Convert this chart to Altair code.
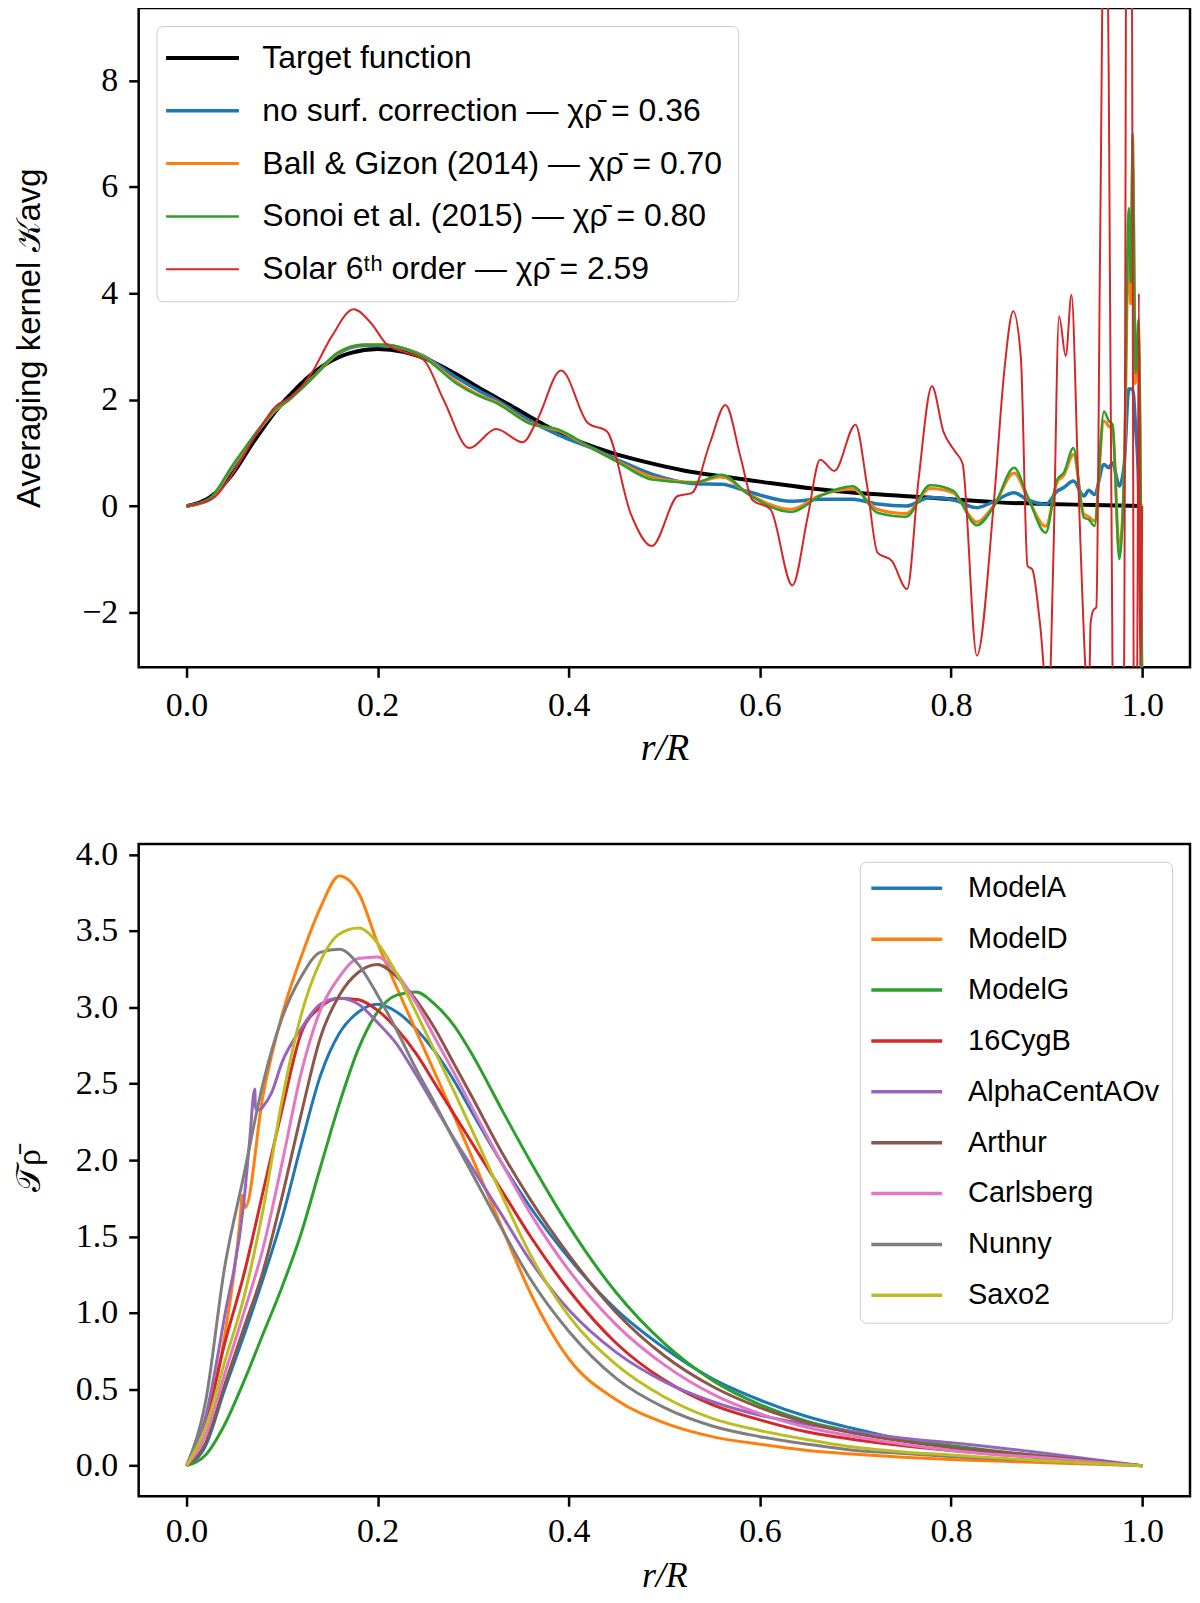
import altair as alt
import pandas as pd

# ---------------- top panel: averaging kernels ----------------
R_TARGET = [0, 0.024, 0.048, 0.07, 0.093, 0.117, 0.145, 0.172, 0.2, 0.227, 0.25, 0.28,
            0.31, 0.34, 0.375, 0.41, 0.445, 0.48, 0.52, 0.56, 0.6, 0.65, 0.7, 0.75,
            0.8, 0.85, 0.9, 0.95, 1.0]
K_TARGET = [0, 0.16, 0.6, 1.2, 1.78, 2.25, 2.66, 2.88, 2.95, 2.9, 2.77, 2.5,
            2.18, 1.88, 1.52, 1.22, 1.0, 0.83, 0.67, 0.56, 0.46, 0.34, 0.25, 0.19,
            0.13, 0.07, 0.04, 0.02, 0.0]

R_CORR = [0, 0.024, 0.048, 0.076, 0.093, 0.107, 0.131, 0.158, 0.186, 0.207, 0.231, 0.248,
          0.282, 0.307, 0.324, 0.358, 0.389, 0.427, 0.45, 0.487, 0.532, 0.56, 0.588, 0.633,
          0.663, 0.697, 0.723, 0.753, 0.778, 0.802, 0.827, 0.845, 0.866, 0.88, 0.899, 0.911,
          0.918, 0.928, 0.939, 0.944, 0.95, 0.96, 0.965, 0.969, 0.976, 0.981, 0.986, 0.988,
          0.99, 0.993, 0.996, 1.0]
K_NOSURF = [0, 0.12, 0.72, 1.44, 1.8, 2.0, 2.4, 2.86, 3.02, 3.02, 2.94, 2.82,
            2.42, 2.16, 2.0, 1.62, 1.34, 1.07, 0.88, 0.6, 0.42, 0.41, 0.27, 0.09,
            0.13, 0.13, 0.04, 0.0, 0.16, 0.12, -0.03, 0.09, 0.25, 0.12, 0.03, 0.28,
            0.35, 0.47, 0.19, 0.3, 0.22, 0.78, 0.72, 0.81, 0.38, 0.75, 2.2, 2.2,
            2.2, 1.5, 0.5, -4.0]
K_BG14 = [0, 0.13, 0.74, 1.44, 1.8, 2.0, 2.4, 2.87, 3.03, 3.03, 2.94, 2.81,
          2.34, 2.08, 1.96, 1.57, 1.42, 1.06, 0.85, 0.55, 0.45, 0.55, 0.23, -0.06,
          0.2, 0.32, -0.06, -0.14, 0.33, 0.25, -0.3, 0.02, 0.62, 0.16, -0.38, 0.45,
          0.58, 0.97, -0.15, -0.2, -0.28, 1.6, 1.5, 1.45, -0.8, 0.5, 5.0, 3.8,
          6.4, 2.3, 3.2, -4.0]
K_SONOI = [0, 0.14, 0.76, 1.45, 1.82, 2.0, 2.4, 2.88, 3.03, 3.03, 2.94, 2.8,
           2.31, 2.06, 1.94, 1.56, 1.44, 1.06, 0.84, 0.5, 0.44, 0.59, 0.22, -0.11,
           0.19, 0.375, -0.125, -0.2, 0.39, 0.29, -0.36, 0.0, 0.72, 0.19, -0.5, 0.5,
           0.63, 1.09, -0.22, -0.25, -0.375, 1.78, 1.6, 1.53, -1.0, 0.6, 5.6, 4.2,
           7.0, 2.5, 3.5, -4.0]

R_SOLAR6 = [0, 0.028, 0.048, 0.076, 0.093, 0.11, 0.131, 0.152, 0.175, 0.193, 0.21, 0.227,
            0.248, 0.269, 0.296, 0.324, 0.352, 0.367, 0.392, 0.42, 0.44, 0.465, 0.487, 0.514,
            0.529, 0.548, 0.564, 0.58, 0.592, 0.611, 0.634, 0.65, 0.663, 0.678, 0.70, 0.712,
            0.723, 0.738, 0.754, 0.766, 0.78, 0.792, 0.804, 0.812, 0.827, 0.845, 0.856, 0.865,
            0.873, 0.88, 0.885, 0.893, 0.902, 0.907, 0.913, 0.92, 0.926, 0.933, 0.941, 0.944,
            0.946, 0.949, 0.952, 0.956, 0.961, 0.965, 0.969, 0.975, 0.981, 0.984, 0.989, 0.991,
            0.993, 0.9948, 0.9965, 0.998, 1.0]
K_SOLAR6 = [0, 0.15, 0.6, 1.44, 1.87, 2.06, 2.5, 3.19, 3.7, 3.44, 3.03, 2.9,
            2.75, 2.0, 1.09, 1.45, 1.2, 1.62, 2.55, 1.56, 1.4, -0.15, -0.75, 0.19,
            0.25, 1.2, 1.9, 0.9, 0.12, -0.06, -1.49, -0.2, 0.87, 0.66, 1.53, 0.4,
            -0.875, -1.03, -1.56, 0.5, 2.25, 1.4, 1.03, 0.8, -2.81, 0.125, 2.6, 3.66,
            2.8, -1.125, -1.19, -2.2, -3.8, -1.0, 3.57, 2.82, 3.97, 0.5, -3.2, -4.0,
            -2.2, -1.95, -1.9, 5.0, 13.0, 8.0, -3.2, -6.0, -3.0, 14.0, 12.0, -3.0,
            -6.0, -3.0, 4.0, -3.0, 0.0]

CHI = "\u03c7\u03c1\u0304"
TOP_LABELS = [
    "Target function",
    f"no surf. correction \u2014 {CHI} = 0.36",
    f"Ball & Gizon (2014) \u2014 {CHI} = 0.70",
    f"Sonoi et al. (2015) \u2014 {CHI} = 0.80",
    f"Solar 6\u1d57\u02b0 order \u2014 {CHI} = 2.59",
]
TOP_COLORS = ["#000000", "#1f77b4", "#ff7f0e", "#2ca02c", "#d62728"]
TOP_WIDTHS = [4, 2, 2, 2, 2]

# ---------------- bottom panel: target functions ----------------
R_GRID = [0, 0.02, 0.04, 0.06, 0.08, 0.1, 0.12, 0.14, 0.16, 0.18, 0.2, 0.22, 0.24, 0.26,
          0.28, 0.3, 0.33, 0.36, 0.4, 0.45, 0.5, 0.55, 0.6, 0.65, 0.7, 0.75, 0.8, 0.9, 1.0]
T_MODELA = [0, 0.13, 0.5, 0.85, 1.22, 1.62, 2.1, 2.55, 2.83, 2.97, 3.02, 2.97, 2.86, 2.71,
            2.52, 2.3, 1.98, 1.69, 1.36, 1.02, 0.77, 0.57, 0.43, 0.32, 0.24, 0.17, 0.12, 0.05, 0.0]
T_MODELD = [0, 0.3, 0.85, 1.73, 2.42, 2.95, 3.33, 3.65, 3.86, 3.75, 3.42, 3.13, 2.85, 2.57,
            2.29, 2.0, 1.56, 1.13, 0.7, 0.43, 0.28, 0.19, 0.14, 0.1, 0.075, 0.055, 0.04, 0.02, 0.0]
T_MODELG = [0, 0.07, 0.27, 0.55, 0.86, 1.17, 1.52, 1.95, 2.37, 2.73, 2.97, 3.08, 3.1, 3.02,
            2.88, 2.68, 2.33, 1.99, 1.57, 1.13, 0.8, 0.56, 0.4, 0.29, 0.22, 0.17, 0.13, 0.06, 0.0]
T_16CYGB = [0, 0.27, 0.8, 1.25, 1.79, 2.33, 2.83, 3.0, 3.06, 3.05, 2.98, 2.86, 2.7, 2.5,
            2.3, 2.1, 1.8, 1.5, 1.15, 0.8, 0.56, 0.4, 0.3, 0.22, 0.17, 0.13, 0.1, 0.05, 0.0]
T_ALPHACEN = [0, 0.32, 0.98, 1.72, 2.35, 2.64, 2.86, 3.02, 3.06, 3.02, 2.9, 2.76, 2.56, 2.35,
              2.14, 1.94, 1.64, 1.34, 1.02, 0.74, 0.55, 0.42, 0.33, 0.27, 0.22, 0.18, 0.15, 0.08, 0.0]
T_ARTHUR = [0, 0.15, 0.53, 0.9, 1.27, 1.76, 2.3, 2.8, 3.08, 3.23, 3.28, 3.2, 3.05, 2.86,
            2.63, 2.4, 2.05, 1.74, 1.38, 1.0, 0.72, 0.52, 0.38, 0.28, 0.21, 0.16, 0.12, 0.06, 0.0]
T_CARLSBERG = [0, 0.2, 0.6, 1.0, 1.42, 1.98, 2.57, 2.98, 3.2, 3.32, 3.33, 3.22, 3.03, 2.8,
               2.57, 2.33, 1.98, 1.65, 1.28, 0.92, 0.66, 0.47, 0.34, 0.25, 0.19, 0.14, 0.1, 0.05, 0.0]
T_NUNNY = [0, 0.42, 1.3, 1.9, 2.5, 2.93, 3.2, 3.36, 3.38, 3.28, 3.08, 2.85, 2.6, 2.37,
           2.13, 1.9, 1.55, 1.22, 0.88, 0.57, 0.38, 0.26, 0.19, 0.14, 0.1, 0.08, 0.06, 0.03, 0.0]
T_SAXO2 = [0, 0.25, 0.68, 1.1, 1.67, 2.39, 2.95, 3.3, 3.48, 3.52, 3.42, 3.22, 2.97, 2.71,
           2.45, 2.18, 1.77, 1.38, 0.98, 0.66, 0.45, 0.31, 0.23, 0.17, 0.12, 0.09, 0.07, 0.03, 0.0]

# small kinks near the centre
R_ALPHACEN_KINK = [0.066, 0.0715, 0.0722, 0.077, 0.089]
T_ALPHACEN_KINK = [2.12, 2.465, 2.335, 2.33, 2.44]
R_MODELD_KINK = [0.056, 0.0585, 0.0615]
T_MODELD_KINK = [1.6, 1.77, 1.69]

MODEL_NAMES = ["ModelA", "ModelD", "ModelG", "16CygB", "AlphaCentAOv",
               "Arthur", "Carlsberg", "Nunny", "Saxo2"]
MODEL_COLORS = ["#1f77b4", "#ff7f0e", "#2ca02c", "#d62728", "#9467bd",
                "#8c564b", "#e377c2", "#7f7f7f", "#bcbd22"]


def frame(r, vals, name, col):
    return pd.DataFrame({"r": r, col: vals, "series": name})


top_df = pd.concat([
    frame(R_TARGET, K_TARGET, TOP_LABELS[0], "k"),
    frame(R_CORR, K_NOSURF, TOP_LABELS[1], "k"),
    frame(R_CORR, K_BG14, TOP_LABELS[2], "k"),
    frame(R_CORR, K_SONOI, TOP_LABELS[3], "k"),
    frame(R_SOLAR6, K_SOLAR6, TOP_LABELS[4], "k"),
], ignore_index=True)

model_series = [T_MODELA, T_MODELD, T_MODELG, T_16CYGB, T_ALPHACEN,
                T_ARTHUR, T_CARLSBERG, T_NUNNY, T_SAXO2]
bot_df = pd.concat(
    [frame(R_GRID, vals, name, "t") for name, vals in zip(MODEL_NAMES, model_series)]
    + [frame(R_ALPHACEN_KINK, T_ALPHACEN_KINK, "AlphaCentAOv", "t"),
       frame(R_MODELD_KINK, T_MODELD_KINK, "ModelD", "t")],
    ignore_index=True,
).sort_values(["series", "r"])

SERIF = "Liberation Serif"
SANS = "Liberation Sans"
X_TICKS = [0, 0.2, 0.4, 0.6, 0.8, 1.0]
x_scale = alt.Scale(domain=[-0.05, 1.05], nice=False, zero=False)

legend_common = dict(title=None, labelFont=SANS, labelLimit=800,
                     strokeColor="#cccccc", fillColor="rgba(255,255,255,0.85)",
                     cornerRadius=6, offset=18)

# top chart (short symbol box, long line path so rows stay compact)
top_legend = alt.Legend(orient="top-left", symbolType="M-2.607,0H2.607", symbolSize=784,
                        symbolOffset=14, labelOffset=44, rowPadding=21, padding=16,
                        labelFontSize=32, **legend_common)
top_color = alt.Color("series:N", scale=alt.Scale(domain=TOP_LABELS, range=TOP_COLORS),
                      legend=top_legend)
top_width = alt.StrokeWidth("series:N", scale=alt.Scale(domain=TOP_LABELS, range=TOP_WIDTHS),
                            legend=top_legend)
top_x = alt.X("r:Q", title="r/R", scale=x_scale,
              axis=alt.Axis(values=X_TICKS, format=".1f", titleFont=SERIF,
                            titleFontStyle="italic", titleFontSize=38, titleY=81,
                            titleBaseline="middle"))
top_y = alt.Y("k:Q", title="Averaging kernel \U0001d4a6avg",
              scale=alt.Scale(domain=[-3.03, 9.36], nice=False, zero=False),
              axis=alt.Axis(values=[-2, 0, 2, 4, 6, 8], titleFont=SANS, titleFontSize=33,
                            titleX=-92))

top_layers = [
    alt.Chart(top_df)
    .transform_filter(alt.FieldEqualPredicate(field="series", equal=s))
    .mark_line(clip=True, interpolate="monotone")
    .encode(x=top_x, y=top_y, color=top_color, strokeWidth=top_width)
    for s in TOP_LABELS
]
top = alt.layer(*top_layers).properties(width=1054, height=661)

# bottom chart
bot_legend = alt.Legend(orient="top-right", symbolType="M-3.737,0H3.737", symbolSize=361,
                        symbolOffset=20.5, labelOffset=47, rowPadding=21, padding=12,
                        labelFontSize=29, symbolStrokeWidth=3.5, **legend_common)
bot_color = alt.Color("series:N", scale=alt.Scale(domain=MODEL_NAMES, range=MODEL_COLORS),
                      legend=bot_legend)
bot_x = alt.X("r:Q", title="r/R", scale=x_scale,
              axis=alt.Axis(values=X_TICKS, format=".1f", titleFont=SERIF,
                            titleFontStyle="italic", titleFontSize=36, titleY=79,
                            titleBaseline="middle", labelPadding=8))
bot_y = alt.Y("t:Q", title="\U0001d4af\u03c1\u0304",
              scale=alt.Scale(domain=[-0.2, 4.07], nice=False, zero=False),
              axis=alt.Axis(values=[0, 0.5, 1, 1.5, 2, 2.5, 3, 3.5, 4], format=".1f",
                            titleFont=SERIF, titleFontSize=34, titleX=-92))

bot_layers = [
    alt.Chart(bot_df)
    .transform_filter(alt.FieldEqualPredicate(field="series", equal=s))
    .mark_line(clip=True, interpolate="monotone", strokeWidth=3)
    .encode(x=bot_x, y=bot_y, color=bot_color)
    for s in MODEL_NAMES
]
bottom = alt.layer(*bot_layers).properties(width=1054, height=654)

chart = (
    alt.vconcat(top, bottom, spacing=67)
    .resolve_scale(color="independent", strokeWidth="independent")
    .resolve_legend(color="independent", strokeWidth="independent")
    .properties(padding={"left": 3, "top": -4, "right": 0, "bottom": 0})
    .configure_view(stroke="black", strokeWidth=2.5)
    .configure_axis(grid=False, domain=False, tickSize=10, tickWidth=2.5, tickColor="black",
                    labelFont=SERIF, labelFontSize=34, labelColor="black", labelPadding=11,
                    titleColor="black", titleFontWeight="normal", labelFlush=False,
                    labelOverlap=False)
)

chart.save("out.html", embed_options={"renderer": "svg", "actions": False})
